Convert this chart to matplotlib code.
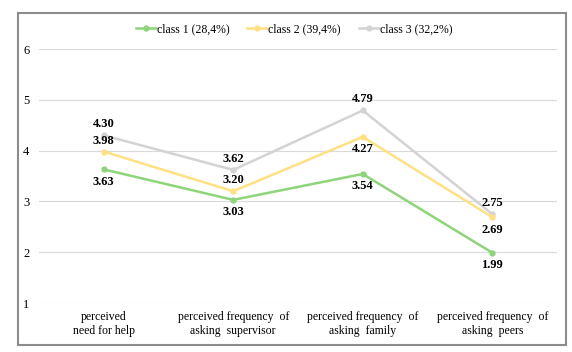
import matplotlib
matplotlib.use("Agg")
import matplotlib.pyplot as plt
from matplotlib.patches import Rectangle

categories = ["perceived\nneed for help", "perceived frequency  of\nasking  supervisor",
              "perceived frequency  of\nasking  family", "perceived frequency  of\nasking  peers"]
class1 = [3.63, 3.03, 3.54, 1.99]
class2 = [3.98, 3.20, 4.27, 2.69]
class3 = [4.30, 3.62, 4.79, 2.75]
series_names = ["class 1 (28,4%)", "class 2 (39,4%)", "class 3 (32,2%)"]
colors = ["#8ED47A", "#FFE082", "#D3D3D3"]
# label placement: +1 above, -1 below
pos1 = [-1, -1, -1, -1]
pos2 = [1, 1, -1, -1]
pos3 = [1, 1, 1, 1]

plt.rcParams['font.family'] = ['Liberation Serif', 'DejaVu Serif']

fig = plt.figure(figsize=(5.72, 3.52), dpi=100)
ax = fig.add_axes([39/572, 1-303/352, (557-39)/572, (303-49)/352])

x = list(range(len(categories)))

order = [(class3, series_names[2], colors[2], pos3),
         (class2, series_names[1], colors[1], pos2),
         (class1, series_names[0], colors[0], pos1)]
handles = {}
for vals, name, c, pos in order:
    h, = ax.plot(x, vals, color=c, lw=1.8, marker='o', ms=3.5, label=name, zorder=3)
    handles[name] = h
    for xi, v, p in zip(x, vals, pos):
        ax.annotate(f"{v:.2f}", (xi, v), xytext=(0, 8 if p > 0 else -9), textcoords='offset points',
                    ha='center', va='center', fontsize=9, fontweight='bold', color='black')

ax.set_xlim(-0.5, 3.5)
ax.set_ylim(1, 6)
ax.set_yticks([1, 2, 3, 4, 5, 6])
ax.set_xticks(x)
ax.set_xticklabels(categories, fontsize=8.5)
ax.tick_params(axis='y', labelsize=9, length=0, pad=7)
ax.tick_params(axis='x', length=0, pad=6)
ax.grid(axis='y', color='#D9D9D9', lw=0.8)
ax.set_axisbelow(True)
for s in ax.spines.values():
    s.set_visible(False)

leg = fig.legend([handles[n] for n in series_names], series_names, loc='center',
                 bbox_to_anchor=(294/572, 1-29/352), ncol=3, frameon=False, fontsize=8.5,
                 handlelength=1.7, columnspacing=1.5, handletextpad=0.1)

fig.patches.append(Rectangle((18/572, 1-345/352), (566-18)/572, (345-13)/352,
                             transform=fig.transFigure, fill=False, edgecolor='#8C8C8C', lw=1.5))

fig.savefig("out.png", dpi=100)
